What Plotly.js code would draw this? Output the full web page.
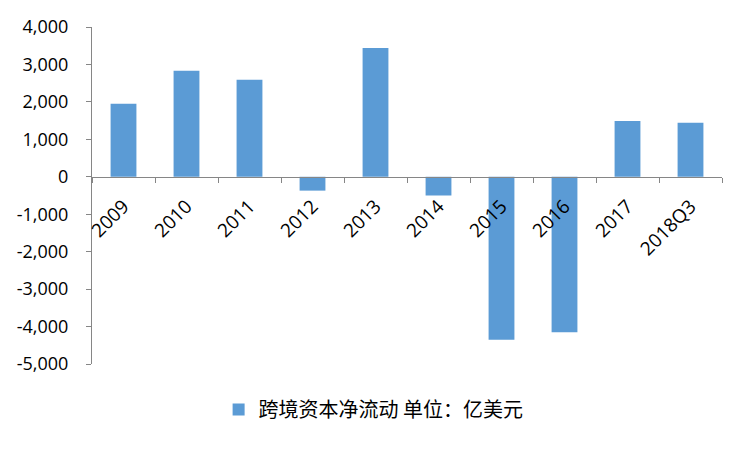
<!DOCTYPE html>
<html>
<head>
<meta charset="utf-8">
<script src="https://cdn.plot.ly/plotly-3.0.1.min.js"></script>
<style>
  html, body { margin: 0; padding: 0; background: #fff; }
  #chart { width: 750px; height: 450px; }
</style>
</head>
<body>
<div id="chart"></div>
<script>
const categories = ['2009','2010','2011','2012','2013','2014','2015','2016','2017','2018Q3'];
const netFlow = [1950, 2830, 2590, -370, 3440, -500, -4350, -4150, 1490, 1440];
const seriesName = '跨境资本净流动 单位：亿美元';
const yMin = -5000, yMax = 4000;
const yTicks = [-5000,-4000,-3000,-2000,-1000,0,1000,2000,3000,4000];

const AXIS_GRAY = '#868686';

Plotly.newPlot('chart', [{
  type: 'bar',
  x: categories,
  y: netFlow,
  name: seriesName,
  marker: { color: '#5B9BD5', line: { width: 0 } },
  showlegend: true,
}], {
  width: 750,
  height: 450,
  paper_bgcolor: '#fff',
  plot_bgcolor: '#fff',
  font: { family: 'Open Sans, Noto Sans CJK SC, sans-serif', color: '#000', size: 18 },
  margin: { t: 27, b: 85.5, l: 92, r: 28 },
  bargap: 0.59,
  xaxis: {
    type: 'category',
    anchor: 'free',
    position: (0 - yMin) / (yMax - yMin),
    showline: true,
    linecolor: AXIS_GRAY,
    linewidth: 1,
    ticks: 'outside',
    tickson: 'boundaries',
    ticklen: 5,
    tickcolor: AXIS_GRAY,
    tickangle: -45,
    ticklabelstandoff: 10,
    showgrid: false,
    zeroline: false,
    tickfont: { size: 19 },
  },
  yaxis: {
    range: [yMin, yMax],
    tickvals: yTicks,
    ticktext: yTicks.map(v => v.toLocaleString('en-US')),
    showline: true,
    linecolor: AXIS_GRAY,
    ticks: 'outside',
    ticklen: 5,
    tickcolor: AXIS_GRAY,
    ticklabelstandoff: 14,
    showgrid: false,
    zeroline: false,
    tickfont: { size: 18 },
  },
  legend: {
    orientation: 'h',
    x: 0.447, xanchor: 'center',
    y: -0.135, yanchor: 'middle',
    itemwidth: 30,
    font: { family: 'Noto Sans CJK SC, sans-serif', size: 20, color: '#000' },
  },
}, { displayModeBar: false });
</script>
</body>
</html>
